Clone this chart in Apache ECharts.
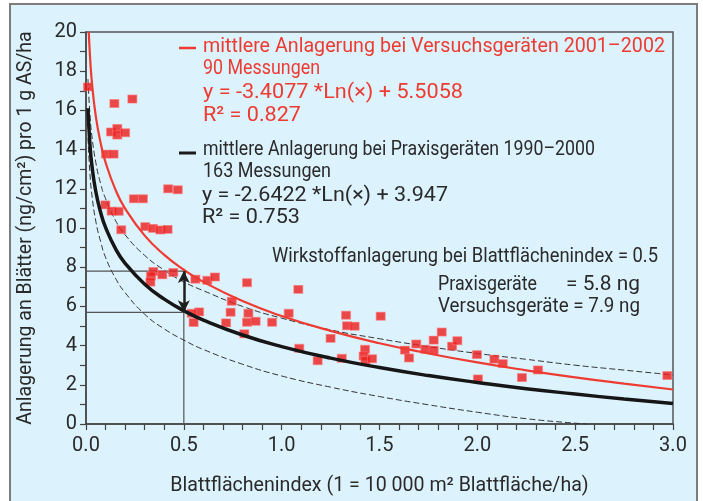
<!DOCTYPE html>
<html><head><meta charset="utf-8">
<script src="https://cdn.jsdelivr.net/npm/echarts@6/dist/echarts.min.js"></script>
<style>html,body{margin:0;padding:0;background:#fff}#c{width:703px;height:501px}</style>
</head><body><div id="c"></div>
<script>
// measured points (Blattflächenindex, Anlagerung)
const pointX = [0.01,0.145,0.237,0.128,0.16,0.16,0.2,0.102,0.141,0.099,0.131,0.167,0.18,0.245,0.291,0.42,0.469,0.303,0.342,0.38,0.417,
  0.344,0.332,0.329,0.39,0.446,0.559,0.62,0.659,0.823,1.085,0.745,0.578,0.54,0.55,0.739,0.83,0.716,0.823,0.867,0.951,1.036,0.809,1.09,1.184,
  1.25,1.329,1.334,1.373,1.506,1.307,1.426,1.419,1.428,1.462,1.63,1.651,1.688,1.734,1.777,1.777,1.818,1.871,1.898,1.998,2.003,2.087,2.13,2.228,2.31,2.971];
const pointY = [17.2,16.35,16.58,14.9,15.08,14.74,14.86,13.77,13.77,11.18,10.86,10.85,9.91,11.49,11.49,12.0,11.95,10.07,9.98,9.9,9.93,
  7.78,7.55,7.24,7.61,7.73,7.39,7.33,7.5,7.21,6.87,6.26,5.72,5.65,5.18,5.7,5.65,5.16,5.19,5.24,5.19,5.65,4.6,3.86,3.23,
  4.37,5.55,5.01,4.99,5.5,3.35,3.81,3.47,3.23,3.33,3.77,3.37,4.08,3.81,4.28,3.77,4.69,3.97,4.25,3.54,2.3,3.31,3.08,2.37,2.76,2.47];

// red trend (Versuchsgeräte)
const redX = [0.0142,0.02,0.03,0.05,0.075,0.1,0.15,0.2,0.3,0.4,0.5,0.6,0.8,1.0,1.25,1.5,1.75,2.0,2.25,2.5,2.75,3.0];
const redY = [20.0,18.84,17.45,15.71,14.33,13.35,11.97,10.99,9.61,8.63,7.87,7.25,6.27,5.51,4.75,4.12,3.60,3.14,2.74,2.38,2.06,1.76];
// black trend (Praxisgeräte)
const blackX = [0.01,0.02,0.03,0.05,0.075,0.1,0.15,0.2,0.3,0.4,0.5,0.6,0.8,1.0,1.25,1.5,1.75,2.0,2.25,2.5,2.75,3.0];
const blackY = [16.11,14.28,13.21,11.86,10.79,10.03,8.96,8.20,7.13,6.37,5.78,5.30,4.54,3.95,3.36,2.88,2.47,2.12,1.80,1.53,1.27,1.04];
// dashed bands
const upperY = [17.6,15.8,14.7,13.35,12.25,11.5,10.4,9.65,8.6,7.85,7.25,6.8,6.0,5.4,4.8,4.35,3.95,3.6,3.3,3.0,2.75,2.5];
const lowerX = [0.01,0.02,0.03,0.05,0.075,0.1,0.15,0.2,0.3,0.4,0.5,0.6,0.8,1.0,1.25,1.5,1.75,2.0,2.25,2.5,2.56];
const lowerY = [14.6,12.8,11.7,10.35,9.3,8.5,7.45,6.7,5.6,4.85,4.28,3.8,3.05,2.45,1.88,1.4,0.98,0.6,0.27,0.04,0];

// reference at Blattflächenindex 0.5
const refX = 0.5;
const refPraxis = 5.7;
const refVersuch = 7.8;

// annotation texts
const redTexts = ['mittlere Anlagerung bei Versuchsgeräten 2001–2002', '90 Messungen', 'y = -3.4077 *Ln(×) + 5.5058', 'R² = 0.827'];
const blackTexts = ['mittlere Anlagerung bei Praxisgeräten 1990–2000', '163 Messungen', 'y = -2.6422 *Ln(×) + 3.947', 'R² = 0.753'];
const noteTexts = ['Wirkstoffanlagerung bei Blattflächenindex = 0.5', 'Praxisgeräte', '= 5.8 ng', 'Versuchsgeräte = 7.9 ng'];

const zip = (a,b) => a.map((v,i)=>[v,b[i]]);
const FONT = 'Roboto';
const TXT = '#2a2a2a', RED = '#ee3b32';
const FS = 21;
const mctx = document.createElement('canvas').getContext('2d');
mctx.font = FS + 'px ' + FONT;
function txt(text, x, y, w, color){
  const sx = w / mctx.measureText(text).width;
  return {type:'text', x:x, y:y, scaleX:sx, style:{x:0, y:0, text:text, font:FS+'px '+FONT, fill:color, textVerticalAlign:'middle'}};
}
// layout (x, y, width) for each text
const redPos = [[203,47,462],[203,69,117],[203,93,260],[203,116,98]];
const blackPos = [[203,150,392],[203,172,128],[202,196,246],[202,218,98]];
const notePos = [[272,257,386],[438,285,99],[566,285,74],[438,307,202]];

const graphics = [
  {type:'rect', z:-10, silent:true, shape:{x:10, y:4, width:687, height:510},
    style:{fill:'#dcf2fc', stroke:'#7d7d7d', lineWidth:2}},
  {type:'line', shape:{x1:179, y1:48, x2:196, y2:48}, style:{stroke:RED, lineWidth:2.5}},
  {type:'line', shape:{x1:179, y1:153, x2:196, y2:153}, style:{stroke:'#1a1a1a', lineWidth:3}}
];
redTexts.forEach((t,i)=>graphics.push(txt(t, redPos[i][0], redPos[i][1], redPos[i][2], RED)));
blackTexts.forEach((t,i)=>graphics.push(txt(t, blackPos[i][0], blackPos[i][1], blackPos[i][2], TXT)));
noteTexts.forEach((t,i)=>graphics.push(txt(t, notePos[i][0], notePos[i][1], notePos[i][2], TXT)));

const chart = echarts.init(document.getElementById('c'), null, {renderer:'canvas'});
chart.setOption({
  backgroundColor:'#ffffff',
  animation:false,
  grid:{left:86, right:30, top:32, bottom:75, show:true, borderColor:'#555', borderWidth:1.5, backgroundColor:'transparent'},
  xAxis:{type:'value', min:0, max:3, interval:0.1,
    axisLine:{onZero:false, lineStyle:{color:'#444', width:1.5}},
    axisTick:{show:true, length:6, lineStyle:{color:'#444', width:1.2}},
    splitLine:{show:false},
    axisLabel:{color:TXT, fontFamily:FONT, fontSize:20, margin:12,
      formatter:v=>Math.round(v*10)%5===0 ? v.toFixed(1) : ''},
    name:'Blattflächenindex (1 = 10 000 m² Blattfläche/ha)', nameLocation:'middle', nameGap:52,
    nameTextStyle:{color:TXT, fontFamily:FONT, fontSize:19.6}
  },
  yAxis:{type:'value', min:0, max:20, interval:1,
    axisLine:{onZero:false, lineStyle:{color:'#444', width:1.5}},
    axisTick:{show:true, length:6, lineStyle:{color:'#444', width:1.2}},
    splitLine:{show:false},
    axisLabel:{color:TXT, fontFamily:FONT, fontSize:20, margin:9,
      formatter:v=>Math.round(v)%2===0 ? String(Math.round(v)) : ''},
    name:'Anlagerung an Blätter (ng/cm²) pro 1 g AS/ha', nameLocation:'middle', nameGap:50,
    nameTextStyle:{color:TXT, fontFamily:FONT, fontSize:19.5}
  },
  graphic:graphics,
  series:[
    {type:'line', data:[[0,refVersuch],[refX,refVersuch]], showSymbol:false, lineStyle:{color:'#555', width:1.2}, z:1, silent:true},
    {type:'line', data:[[0,refPraxis],[refX,refPraxis]], showSymbol:false, lineStyle:{color:'#555', width:1.2}, z:1, silent:true},
    {type:'line', data:[[refX,0],[refX,refPraxis]], showSymbol:false, lineStyle:{color:'#555', width:1.2}, z:1, silent:true,
      markLine:{silent:true, symbol:['arrow','arrow'], symbolSize:[9,12], label:{show:false},
        lineStyle:{color:'#1e1e1e', width:2.5, type:'solid'},
        data:[[{coord:[refX,refPraxis]},{coord:[refX,refVersuch]}]]}},
    {type:'line', data:zip(lowerX,lowerY), smooth:true, showSymbol:false, lineStyle:{color:'#333', width:1, type:[6,3]}, z:2},
    {type:'line', data:zip(blackX,upperY), smooth:true, showSymbol:false, lineStyle:{color:'#333', width:1, type:[6,3]}, z:2},
    {type:'scatter', data:zip(pointX,pointY), symbol:'rect', symbolSize:[9,8], itemStyle:{color:'#ee1c1c', borderColor:'rgba(255,120,120,0.7)', borderWidth:1}, z:3},
    {type:'line', data:zip(redX,redY), smooth:true, showSymbol:false, lineStyle:{color:RED, width:2.2}, z:4},
    {type:'line', data:zip(blackX,blackY), smooth:true, showSymbol:false, lineStyle:{color:'#161616', width:3.5}, z:4}
  ]
});
</script></body></html>
